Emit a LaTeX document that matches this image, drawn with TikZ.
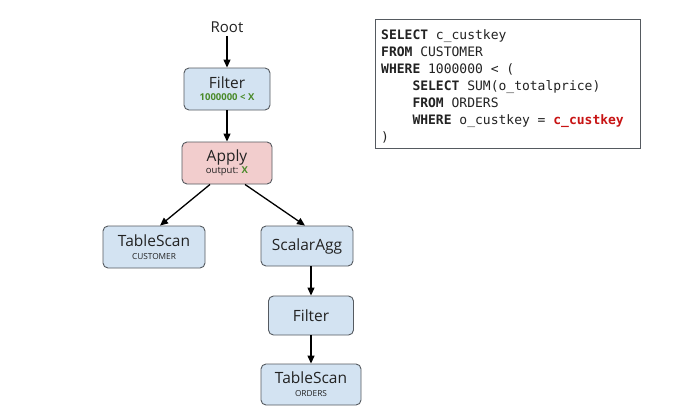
\documentclass[tikz,border=0pt]{standalone}
\usepackage{fontspec}
\setmainfont{Open Sans}
\setmonofont{DejaVu Sans Mono}
\usetikzlibrary{arrows.meta}
\definecolor{boxblue}{HTML}{D3E3F2}
\definecolor{boxpink}{HTML}{F2CDCD}
\definecolor{boxline}{HTML}{555A60}
\definecolor{grn}{HTML}{4A8A2A}
\definecolor{redkey}{HTML}{C81414}
\definecolor{txt}{HTML}{222222}
\tikzset{
  opbox/.style={draw=boxline, line width=0.9pt, rounded corners=5pt, fill=boxblue, align=center, inner sep=0pt, text=txt, font=\fontsize{15.5}{16}\selectfont},
  applybox/.style={opbox, fill=boxpink},
  conn/.style={line width=1.3pt, -{Triangle[length=8pt,width=7pt]}},
}
\begin{document}
\begin{tikzpicture}[x=1pt,y=-1pt]
\useasboundingbox (0,0) rectangle (678,407);
\fill[white] (0,0) rectangle (678,407);
\node[font=\fontsize{15}{16}\selectfont, text=txt] (root) at (227,27) {Root};
\node[opbox, minimum width=86pt, minimum height=42pt] (filter) at (227,89) {Filter\\[-4pt]{\fontsize{9.5}{10}\selectfont\bfseries\color{grn}1000000 < X}};
\node[applybox, minimum width=90pt, minimum height=42pt] (apply) at (227,163) {Apply\\[-4pt]{\fontsize{9.5}{10}\selectfont output: {\bfseries\color{grn}X}}};
\node[opbox, minimum width=102pt, minimum height=42pt] (ts1) at (154,247) {TableScan\\[-3pt]{\fontsize{8.3}{9}\selectfont CUSTOMER}};
\node[opbox, minimum width=92pt, minimum height=40pt] (agg) at (307,246) {ScalarAgg};
\node[opbox, minimum width=85pt, minimum height=39pt] (filter2) at (311,315.5) {Filter};
\node[opbox, minimum width=100pt, minimum height=41pt] (ts2) at (311,384.5) {TableScan\\[-3pt]{\fontsize{8.3}{9}\selectfont ORDERS}};
\draw[conn] (root.south) -- (filter.north);
\draw[conn] (filter.south) -- (apply.north);
\draw[conn] ([xshift=-17pt]apply.south) -- ([xshift=6pt]ts1.north);
\draw[conn] ([xshift=18pt]apply.south) -- ([xshift=-2pt]agg.north);
\draw[conn] ([xshift=4pt]agg.south) -- (filter2.north);
\draw[conn] (filter2.south) -- (ts2.north);
\node[draw=boxline, line width=0.9pt, fill=white, minimum width=265pt, minimum height=129pt, anchor=north west, inner sep=0pt] (sql) at (375,19) {};
\node[anchor=north west, align=left, inner sep=0pt, text=txt, font=\ttfamily\fontsize{13}{17}\selectfont] (sqltext) at (381,29.5) {%
\textbf{SELECT} c\_custkey\\
\textbf{FROM} CUSTOMER\\
\textbf{WHERE} 1000000 < (\\
\hphantom{xxxx}\textbf{SELECT} SUM(o\_totalprice)\\
\hphantom{xxxx}\textbf{FROM} ORDERS\\
\hphantom{xxxx}\textbf{WHERE} o\_custkey = {\bfseries\color{redkey}c\_custkey}\\
)};
\end{tikzpicture}
\end{document}
